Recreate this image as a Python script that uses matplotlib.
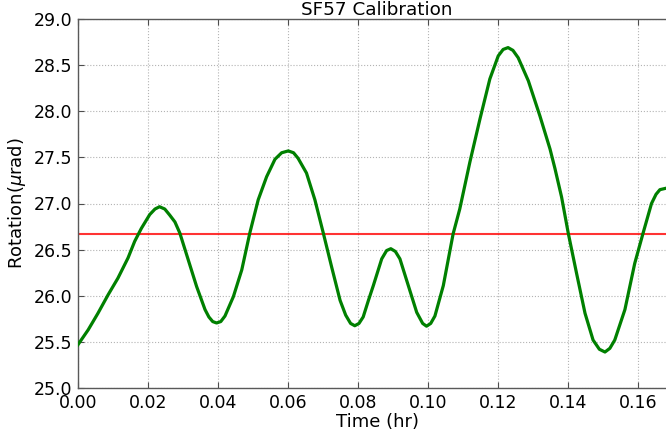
import numpy as np
import matplotlib
matplotlib.use("Agg")
import matplotlib.pyplot as plt

# values
time_hr = [0.0000, 0.0029, 0.0057, 0.0086, 0.0114, 0.0143, 0.0162, 0.0181,
           0.0205, 0.0220, 0.0233, 0.0248, 0.0262, 0.0277, 0.0291, 0.0315,
           0.0339, 0.0363, 0.0374, 0.0385, 0.0396, 0.0408, 0.0420, 0.0444,
           0.0468, 0.0491, 0.0515, 0.0539, 0.0563, 0.0582, 0.0601, 0.0616,
           0.0629, 0.0653, 0.0677, 0.0701, 0.0725, 0.0749, 0.0765, 0.0779,
           0.0791, 0.0803, 0.0815, 0.0830, 0.0844, 0.0868, 0.0882, 0.0894,
           0.0907, 0.0920, 0.0944, 0.0968, 0.0985, 0.0996, 0.1008, 0.1020,
           0.1044, 0.1072, 0.1091, 0.1120, 0.1149, 0.1177, 0.1201, 0.1215,
           0.1229, 0.1243, 0.1258, 0.1287, 0.1320, 0.1349, 0.1363, 0.1382,
           0.1401, 0.1425, 0.1449, 0.1472, 0.1490, 0.1506, 0.1520, 0.1534,
           0.1563, 0.1591, 0.1615, 0.1639, 0.1652, 0.1663, 0.1680, 0.1709]
rotation = [25.47, 25.63, 25.81, 26.01, 26.19, 26.41, 26.59, 26.73,
            26.88, 26.94, 26.965, 26.94, 26.875, 26.80, 26.68, 26.39,
            26.10, 25.85, 25.77, 25.72, 25.705, 25.72, 25.78, 25.99,
            26.28, 26.68, 27.04, 27.29, 27.48, 27.55, 27.57, 27.55,
            27.49, 27.33, 27.04, 26.68, 26.31, 25.95, 25.79, 25.70,
            25.675, 25.70, 25.77, 25.95, 26.11, 26.40, 26.49, 26.51,
            26.48, 26.40, 26.11, 25.82, 25.70, 25.67, 25.70, 25.78,
            26.11, 26.67, 26.94, 27.45, 27.92, 28.35, 28.60, 28.67,
            28.69, 28.66, 28.58, 28.33, 27.95, 27.59, 27.38, 27.07,
            26.68, 26.24, 25.81, 25.52, 25.42, 25.39, 25.43, 25.52,
            25.85, 26.35, 26.68, 27.00, 27.10, 27.15, 27.165, 27.17]
mean_rotation = 26.67

title = "SF57 Calibration"
x_label = "Time (hr)"
y_label = r"Rotation($\mu$rad)"
x_ticks = [0.00, 0.02, 0.04, 0.06, 0.08, 0.10, 0.12, 0.14, 0.16]
y_ticks = [25.0, 25.5, 26.0, 26.5, 27.0, 27.5, 28.0, 28.5, 29.0]

plt.rcParams["font.family"] = "DejaVu Sans"
plt.rcParams["font.size"] = 12.5
plt.rcParams["mathtext.fontset"] = "dejavusans"

W, H = 666, 434
fig = plt.figure(figsize=(W / 100, H / 100), dpi=100)
# axes runs a little past the right edge, as in the reference
left, right, top, bottom = 78, 676, 19, 388
ax = fig.add_axes([left / W, (H - bottom) / H, (right - left) / W, (bottom - top) / H])

ax.plot(time_hr, rotation, color="green", lw=2.3, zorder=3)
ax.axhline(mean_rotation, color="red", lw=1.5, alpha=0.8, zorder=2)

ax.set_xlim(0, 0.1709)
ax.set_ylim(25.0, 29.0)
ax.set_xticks(x_ticks)
ax.set_yticks(y_ticks)
ax.set_xticklabels([f"{v:.2f}" for v in x_ticks])
ax.set_yticklabels([f"{v:.1f}" for v in y_ticks])
ax.tick_params(direction="in", length=4, width=0.8, color="0.3",
               top=True, right=True, pad=4)
ax.grid(True, color="0.7", ls=":", lw=0.8)
for s in ax.spines.values():
    s.set_color("0.35")
    s.set_linewidth(1.0)

ax.set_title(title, pad=3, fontsize=13.2)
ax.set_xlabel(x_label, labelpad=1, fontsize=13)
ax.set_ylabel(y_label, labelpad=4, fontsize=13)

fig.savefig("out.png", dpi=100)
